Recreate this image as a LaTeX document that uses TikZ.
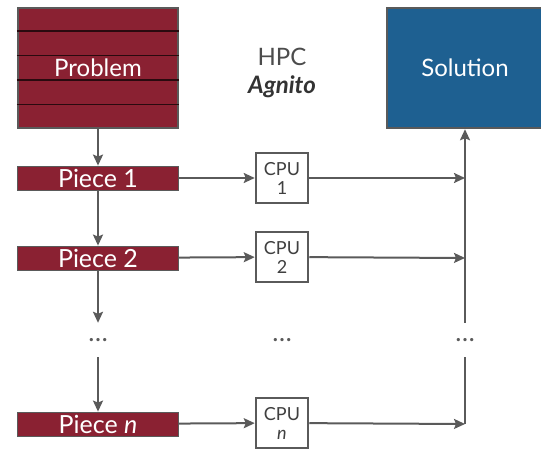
\documentclass[tikz,border=0pt]{standalone}
\usepackage{fontspec}
\setmainfont{Lato}
\usepackage{tikz}
\usetikzlibrary{arrows.meta,positioning,calc}
\definecolor{piecered}{RGB}{138,33,50}
\definecolor{solblue}{RGB}{30,96,145}
\definecolor{linegray}{RGB}{90,90,90}

\begin{document}
\begin{tikzpicture}[x=1pt, y=-1pt,
    block/.style={draw=linegray, line width=2.5pt, inner sep=0pt,
                  text=white, font=\fontsize{24}{24}\selectfont},
    prb/.style={block, fill=piecered, minimum width=160pt, minimum height=120pt},
    sln/.style={block, fill=solblue, minimum width=156pt, minimum height=120pt},
    pce/.style={draw=linegray, line width=0.8pt, fill=piecered, text=white,
                minimum width=161pt, minimum height=24pt, inner sep=0pt,
                font=\fontsize{25}{25}\selectfont},
    cpu/.style={draw=linegray, line width=2.5pt, fill=white, text=black!75,
                minimum width=52pt, minimum height=50pt, inner sep=0pt,
                align=center, font=\fontsize{18}{19}\selectfont},
    dts/.style={text=linegray, minimum height=34pt, inner sep=0pt,
                font=\fontsize{26}{26}\selectfont},
    stripe/.style={draw=black!70!piecered, line width=1.5pt},
    arr/.style={-{Stealth[length=11pt, width=10pt, inset=2pt]}, line width=2pt, draw=linegray},
    lin/.style={line width=2pt, draw=linegray}
]
\clip (0,0) rectangle (541,449);
\node[prb] (prob) at (98,68) {};
\foreach \k in {1,...,4}
    \draw[stripe] ($(prob.north west)!\k/5!(prob.south west)$) -- ($(prob.north east)!\k/5!(prob.south east)$);
\node[block, draw=none] at (prob) {Problem};
\node[sln] (sol) at (465,68) {Solution};
\node[text=black!70, font=\fontsize{24}{24}\selectfont] (hpc) at (282,57) {HPC};
\node[text=black!80, font=\fontsize{24}{24}\selectfont\bfseries\itshape] (agn) at (282,87) {Agnito};

\node[pce] (p1) at (98,178) {Piece 1};
\node[pce] (p2) at (98,258) {Piece 2};
\node[pce] (pn) at (98,424) {Piece \textit{n}};

\node[cpu] (c1) at (282,178) {CPU\\1};
\node[cpu] (c2) at (282,257) {CPU\\2};
\node[cpu] (cn) at (282,423) {CPU\\\textit{n}};

\node[dts] (d1) at (98,340) {\ldots};
\node[dts] (d2) at (282,340) {\ldots};
\node[dts] (d3) at (465,340) {\ldots};

\coordinate (e1) at (465,178);
\coordinate (e2) at (465,258);
\coordinate (en) at (465,424);

\draw[arr] (prob) -- (p1);
\draw[arr] (p1) -- (p2);
\draw[arr] (p2) -- (d1);
\draw[arr] (d1) -- (pn);
\draw[arr] (p1) -- (c1);
\draw[arr] (p2) -- (c2);
\draw[arr] (pn) -- (cn);
\draw[arr] (c1) -- (e1);
\draw[arr] (c2) -- (e2);
\draw[arr] (cn) -- (en);
\draw[lin] (en) -- (d3);
\draw[arr] (d3) -- (sol);
\end{tikzpicture}
\end{document}
